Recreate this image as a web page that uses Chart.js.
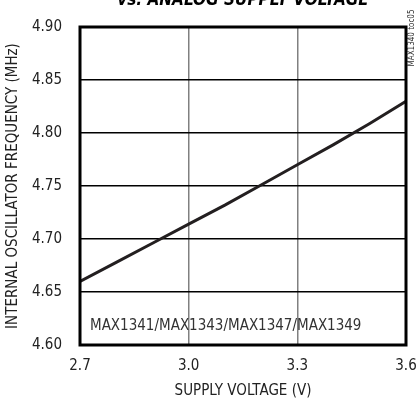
<!DOCTYPE html>
<html>
<head>
<meta charset="utf-8">
<script src="https://cdn.jsdelivr.net/npm/chart.js@4"></script>
<style>
  html, body { margin: 0; padding: 0; background: #fff; }
  #wrap { width: 417px; height: 400px; position: relative; }
</style>
</head>
<body>
<div id="wrap"><canvas id="oscChart"></canvas></div>
<script>
// supply voltage (V) and oscillator frequency (MHz)
const supplyVoltage = [2.7, 2.8, 2.9, 3.0, 3.1, 3.2, 3.3, 3.4, 3.5, 3.6];
const oscFrequency = [4.660, 4.678, 4.696, 4.714, 4.732, 4.751, 4.770, 4.789, 4.809, 4.830];

const titleText = 'vs. ANALOG SUPPLY VOLTAGE';
const xTitle = 'SUPPLY VOLTAGE (V)';
const yTitle = 'INTERNAL OSCILLATOR FREQUENCY (MHz)';
const partLabel = 'MAX1341/MAX1343/MAX1347/MAX1349';
const figureId = 'MAX1340 toc05';

const FONT = "'Liberation Sans Narrow', 'DejaVu Sans Condensed', sans-serif";

// frame, cut-off title and the small labels
const decorations = {
    id: 'decorations',
    afterDraw(chart) {
        const ctx = chart.ctx;
        const a = chart.chartArea;
        ctx.save();
        ctx.strokeStyle = '#000';
        ctx.lineWidth = 3;
        ctx.strokeRect(a.left, a.top, a.right - a.left, a.bottom - a.top);

        ctx.fillStyle = '#000';
        ctx.font = 'bold italic 17px ' + FONT;
        ctx.textAlign = 'center';
        ctx.textBaseline = 'alphabetic';
        ctx.fillText(titleText, 243, 5);

        ctx.fillStyle = '#333';
        ctx.font = '15px ' + FONT;
        ctx.textAlign = 'left';
        ctx.textBaseline = 'middle';
        ctx.fillText(partLabel, a.left + 10, 326);

        ctx.translate(412, 38);
        ctx.rotate(-Math.PI / 2);
        ctx.font = '8px ' + FONT;
        ctx.textAlign = 'center';
        ctx.fillText(figureId, 0, 0);
        ctx.restore();
    }
};

new Chart(document.getElementById('oscChart'), {
    type: 'line',
    data: {
        labels: supplyVoltage,
        datasets: [{
            data: supplyVoltage.map((v, i) => ({ x: v, y: oscFrequency[i] })),
            borderColor: '#231f20',
            borderWidth: 3,
            pointRadius: 0,
            tension: 0
        }]
    },
    options: {
        responsive: true,
        maintainAspectRatio: false,
        animation: false,
        layout: { padding: { top: 20, right: 11, left: 0, bottom: 0 } },
        plugins: { legend: { display: false }, tooltip: { enabled: false } },
        scales: {
            x: {
                type: 'linear',
                min: 2.7,
                max: 3.6,
                afterFit: s => {
                    s.height = 55;
                    s.paddingLeft = 0;
                    s.paddingRight = 0;
                },
                ticks: {
                    stepSize: 0.3,
                    callback: v => v.toFixed(1),
                    color: '#222',
                    font: { family: FONT, size: 15 },
                    padding: 12
                },
                grid: { color: '#808080', lineWidth: 1.5, tickLength: 0 },
                border: { display: false },
                title: {
                    display: true,
                    text: xTitle,
                    color: '#222',
                    font: { family: FONT, size: 15 },
                    padding: { top: 2, bottom: 0 }
                }
            },
            y: {
                min: 4.6,
                max: 4.9,
                afterFit: s => { s.width = 80; },
                ticks: {
                    stepSize: 0.05,
                    callback: v => v.toFixed(2),
                    color: '#222',
                    font: { family: FONT, size: 15 },
                    padding: 18
                },
                grid: { color: '#000', lineWidth: 1.5, tickLength: 0 },
                border: { display: false },
                title: {
                    display: true,
                    text: yTitle,
                    color: '#222',
                    font: { family: FONT, size: 15 },
                    padding: { top: 4, bottom: 0 }
                }
            }
        }
    },
    plugins: [decorations]
});
</script>
</body>
</html>
